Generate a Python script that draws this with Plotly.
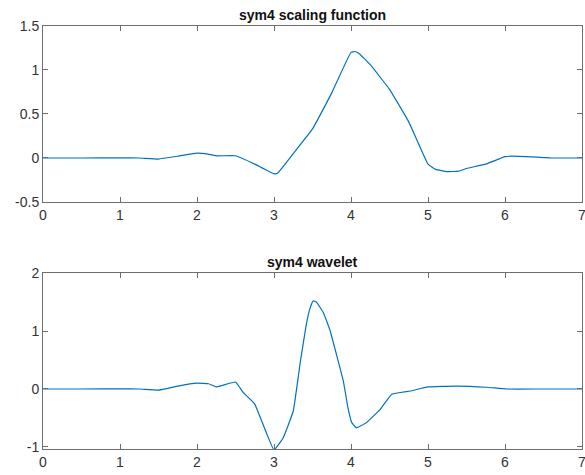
import plotly.graph_objects as go
from plotly.subplots import make_subplots

# sym4 scaling function
phi_x = [0, 0.5, 1.0, 1.25, 1.5, 1.75, 2.0, 2.1, 2.25, 2.5, 2.75, 3.0, 3.05,
         3.25, 3.5, 3.75, 4.0, 4.05, 4.1, 4.25, 4.5, 4.75, 5.0, 5.1, 5.25,
         5.4, 5.5, 5.75, 6.0, 6.1, 6.5, 6.6, 7.0]
phi_y = [0, 0, 0.002, 0.0, -0.012, 0.02, 0.055, 0.05, 0.025, 0.025, -0.07,
         -0.18, -0.17, 0.05, 0.33, 0.74, 1.20, 1.21, 1.19, 1.06, 0.78, 0.41,
         -0.07, -0.13, -0.155, -0.15, -0.12, -0.07, 0.015, 0.02, 0.005, 0.0, 0.0]

# sym4 wavelet
psi_x = [0, 0.5, 1.0, 1.25, 1.5, 1.75, 2.0, 2.15, 2.25, 2.5, 2.6, 2.75, 3.0,
         3.12, 3.25, 3.34, 3.42, 3.47, 3.51, 3.55, 3.64, 3.73, 3.81, 3.9, 3.96,
         4.01, 4.07, 4.2, 4.38, 4.53, 4.77, 5.0, 5.37, 5.76, 6.02, 6.5, 7.0]
psi_y = [0, 0, 0.003, 0.0, -0.02, 0.05, 0.1, 0.09, 0.035, 0.12, -0.06, -0.26,
         -1.05, -0.84, -0.38, 0.45, 1.12, 1.4, 1.52, 1.5, 1.32, 1.0, 0.6, 0.14,
         -0.32, -0.58, -0.67, -0.58, -0.35, -0.09, -0.035, 0.035, 0.05, 0.03,
         0.0, 0.0, 0.0]

titles = ["sym4 scaling function", "sym4 wavelet"]
x_ticks = [0, 1, 2, 3, 4, 5, 6, 7]
top_yticks = [-0.5, 0, 0.5, 1, 1.5]
top_ylabels = ["-0.5", "0", "0.5", "1", "1.5"]
bot_yticks = [-1, 0, 1, 2]
bot_ylabels = ["-1", "0", "1", "2"]

line_color = "#0072BD"
axis_color = "#6e6e6e"
text_color = "#333333"
font_family = "Liberation Sans, Arial, sans-serif"

fig = make_subplots(rows=2, cols=1)
fig.add_trace(go.Scatter(x=phi_x, y=phi_y, mode="lines",
                         line=dict(color=line_color, width=1.2, shape="spline", smoothing=0.3),
                         showlegend=False, cliponaxis=False), row=1, col=1)
fig.add_trace(go.Scatter(x=psi_x, y=psi_y, mode="lines",
                         line=dict(color=line_color, width=1.2, shape="spline", smoothing=0.3),
                         showlegend=False, cliponaxis=False), row=2, col=1)

axis_common = dict(showline=True, linecolor=axis_color, linewidth=1, mirror="ticks",
                   ticks="inside", ticklen=5, tickcolor=axis_color, showgrid=False,
                   zeroline=False, automargin=False, ticklabeloverflow="allow",
                   tickfont=dict(size=14, color=text_color, family=font_family))

fig.update_xaxes(range=[0, 7], tickvals=x_ticks, ticktext=[str(v) for v in x_ticks],
                 **axis_common)
fig.update_yaxes(range=[-0.5, 1.5], tickvals=top_yticks, ticktext=top_ylabels,
                 row=1, col=1, **axis_common)
fig.update_yaxes(range=[-1.035, 2], tickvals=bot_yticks, ticktext=bot_ylabels,
                 row=2, col=1, **axis_common)

fig.update_layout(
    width=585, height=475,
    margin=dict(l=43, r=3, t=26, b=26),
    paper_bgcolor="white", plot_bgcolor="white",
    font=dict(family=font_family, color=text_color),
    xaxis=dict(domain=[0, 1]), yaxis=dict(domain=[0.584, 1.0]),
    xaxis2=dict(domain=[0, 1]), yaxis2=dict(domain=[0.0, 0.416]),
)

for ttl, yd in zip(titles, [1.0, 0.416]):
    fig.add_annotation(text="<b>%s</b>" % ttl, x=0.5, y=yd, xref="paper", yref="paper",
                       xanchor="center", yanchor="bottom", yshift=1, showarrow=False,
                       font=dict(size=14, color="#111111", family=font_family))

fig.write_html("out.html", config={"displayModeBar": False},
               post_script="document.body.style.margin='0';document.body.style.overflow='hidden';")
